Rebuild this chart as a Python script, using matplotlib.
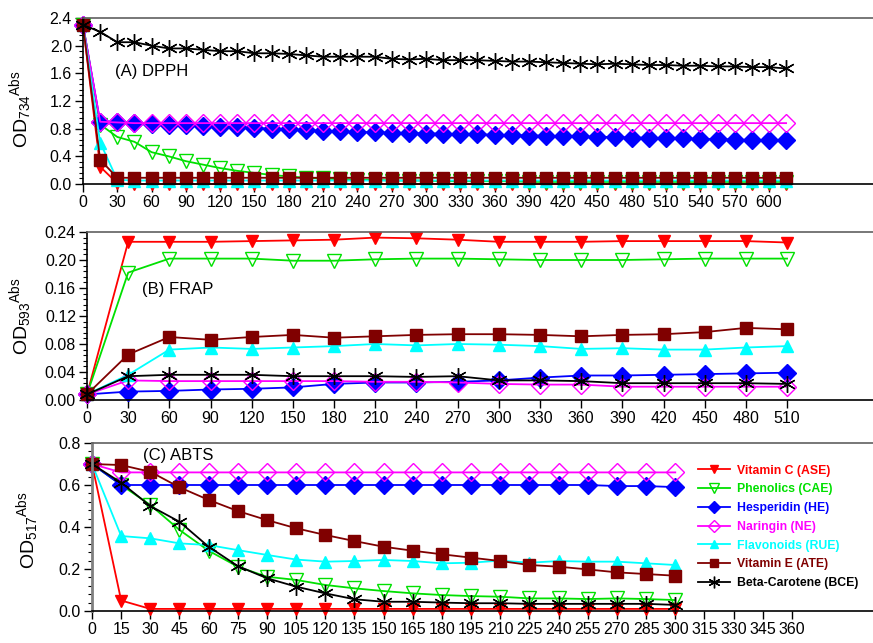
import matplotlib
matplotlib.use("Agg")
import matplotlib.pyplot as plt
from matplotlib.ticker import MultipleLocator, FormatStrFormatter

plt.rcParams['font.family'] = ['Liberation Sans', 'DejaVu Sans']
plt.rcParams['mathtext.fontset'] = 'custom'
plt.rcParams['mathtext.rm'] = 'Liberation Sans'
plt.rcParams['mathtext.it'] = 'Liberation Sans'

series_names = ["Vitamin C (ASE)", "Phenolics (CAE)", "Hesperidin (HE)", "Naringin (NE)",
                "Flavonoids (RUE)", "Vitamin E (ATE)", "Beta-Carotene (BCE)"]

# ---------------- Panel A : DPPH ----------------
time_A = list(range(0, 616, 15))
A_ASE = [2.30, 0.25, 0.01, 0.00, 0.00, 0.00, 0.00, 0.00, 0.00, 0.00, 0.00, 0.00, 0.00, 0.00,
         0.00, 0.00, 0.00, 0.00, 0.00, 0.00, 0.00, 0.00, 0.00, 0.00, 0.00, 0.00, 0.00, 0.00,
         0.00, 0.00, 0.00, 0.00, 0.00, 0.00, 0.00, 0.00, 0.00, 0.00, 0.00, 0.00, 0.00, 0.00]
A_CAE = [2.30, 0.86, 0.68, 0.61, 0.46, 0.40, 0.33, 0.28, 0.23, 0.19, 0.16, 0.13, 0.11, 0.09,
         0.08, 0.07, 0.06, 0.06, 0.05, 0.05, 0.05, 0.04, 0.04, 0.04, 0.04, 0.04, 0.03, 0.03,
         0.03, 0.03, 0.03, 0.03, 0.03, 0.03, 0.03, 0.03, 0.03, 0.03, 0.03, 0.03, 0.03, 0.03]
A_HE = [2.30, 0.90, 0.89, 0.88, 0.87, 0.86, 0.85, 0.84, 0.83, 0.82, 0.81, 0.80, 0.79, 0.78,
        0.77, 0.76, 0.75, 0.75, 0.74, 0.74, 0.73, 0.73, 0.72, 0.72, 0.71, 0.71, 0.70, 0.70,
        0.69, 0.69, 0.68, 0.68, 0.67, 0.67, 0.66, 0.66, 0.65, 0.65, 0.64, 0.64, 0.63, 0.63]
A_NE = [2.30, 0.90, 0.89, 0.88, 0.88, 0.88, 0.88, 0.88, 0.88, 0.88, 0.88, 0.88, 0.88, 0.88,
        0.88, 0.88, 0.88, 0.88, 0.88, 0.88, 0.88, 0.88, 0.88, 0.88, 0.88, 0.88, 0.88, 0.88,
        0.88, 0.88, 0.88, 0.88, 0.88, 0.88, 0.88, 0.88, 0.88, 0.88, 0.88, 0.88, 0.88, 0.88]
A_RUE = [2.30, 0.60, 0.06, 0.05, 0.05, 0.05, 0.05, 0.05, 0.05, 0.05, 0.05, 0.05, 0.05, 0.05,
         0.05, 0.05, 0.05, 0.05, 0.05, 0.05, 0.05, 0.05, 0.05, 0.05, 0.05, 0.05, 0.05, 0.05,
         0.05, 0.05, 0.05, 0.05, 0.05, 0.05, 0.05, 0.05, 0.05, 0.05, 0.05, 0.05, 0.05, 0.05]
A_ATE = [2.30, 0.35, 0.09, 0.09, 0.09, 0.09, 0.09, 0.09, 0.09, 0.09, 0.09, 0.09, 0.09, 0.09,
         0.09, 0.09, 0.09, 0.09, 0.09, 0.09, 0.09, 0.09, 0.09, 0.09, 0.09, 0.09, 0.09, 0.09,
         0.09, 0.09, 0.09, 0.09, 0.09, 0.09, 0.09, 0.09, 0.09, 0.09, 0.09, 0.09, 0.09, 0.09]
A_BCE = [2.30, 2.20, 2.05, 2.05, 2.00, 1.96, 1.96, 1.94, 1.92, 1.92, 1.89, 1.89, 1.88, 1.86,
         1.84, 1.84, 1.84, 1.84, 1.81, 1.80, 1.81, 1.79, 1.79, 1.79, 1.78, 1.77, 1.77, 1.76,
         1.75, 1.74, 1.73, 1.74, 1.73, 1.72, 1.72, 1.71, 1.71, 1.70, 1.70, 1.69, 1.69, 1.67]

# ---------------- Panel B : FRAP ----------------
time_B = list(range(0, 511, 30))
B_ASE = [0.008, 0.226, 0.226, 0.226, 0.227, 0.228, 0.229, 0.232, 0.231, 0.229, 0.226, 0.226,
         0.226, 0.227, 0.227, 0.227, 0.227, 0.225]
B_CAE = [0.008, 0.182, 0.202, 0.202, 0.202, 0.199, 0.199, 0.201, 0.202, 0.202, 0.201, 0.200,
         0.200, 0.200, 0.201, 0.202, 0.202, 0.202]
B_HE = [0.008, 0.012, 0.013, 0.015, 0.016, 0.018, 0.023, 0.025, 0.025, 0.026, 0.028, 0.032,
        0.035, 0.035, 0.036, 0.037, 0.038, 0.039]
B_NE = [0.008, 0.028, 0.027, 0.027, 0.027, 0.027, 0.027, 0.026, 0.026, 0.025, 0.023, 0.022,
        0.022, 0.019, 0.019, 0.019, 0.019, 0.019]
B_RUE = [0.008, 0.036, 0.072, 0.075, 0.073, 0.075, 0.077, 0.080, 0.078, 0.080, 0.079, 0.077,
         0.073, 0.074, 0.072, 0.072, 0.075, 0.077]
B_ATE = [0.008, 0.065, 0.090, 0.086, 0.090, 0.093, 0.089, 0.091, 0.093, 0.094, 0.094, 0.093,
         0.091, 0.093, 0.094, 0.097, 0.103, 0.101]
B_BCE = [0.008, 0.034, 0.036, 0.036, 0.036, 0.034, 0.034, 0.034, 0.033, 0.034, 0.028, 0.028,
         0.027, 0.024, 0.024, 0.024, 0.024, 0.023]

# ---------------- Panel C : ABTS ----------------
time_C = list(range(0, 301, 15))
C_ASE = [0.70, 0.05, 0.01, 0.01, 0.01, 0.01, 0.01, 0.01, 0.01, 0.01, 0.01, 0.01, 0.01, 0.01,
         0.01, 0.01, 0.01, 0.01, 0.01, 0.01, 0.01]
C_CAE = [0.70, 0.60, 0.505, 0.386, 0.287, 0.211, 0.163, 0.148, 0.124, 0.108, 0.095, 0.084,
         0.076, 0.071, 0.068, 0.060, 0.060, 0.057, 0.060, 0.057, 0.052]
C_HE = [0.70, 0.60, 0.60, 0.60, 0.60, 0.60, 0.60, 0.60, 0.60, 0.60, 0.60, 0.60, 0.60, 0.60,
        0.60, 0.60, 0.60, 0.60, 0.595, 0.595, 0.59]
C_NE = [0.70, 0.66, 0.66, 0.66, 0.66, 0.66, 0.66, 0.66, 0.66, 0.66, 0.66, 0.66, 0.66, 0.66,
        0.66, 0.66, 0.66, 0.66, 0.66, 0.66, 0.66]
C_RUE = [0.70, 0.357, 0.346, 0.322, 0.314, 0.290, 0.267, 0.245, 0.235, 0.238, 0.243, 0.238,
         0.227, 0.230, 0.240, 0.230, 0.238, 0.235, 0.235, 0.227, 0.219]
C_ATE = [0.70, 0.695, 0.663, 0.589, 0.529, 0.476, 0.433, 0.394, 0.362, 0.333, 0.306, 0.287,
         0.270, 0.254, 0.238, 0.219, 0.211, 0.198, 0.184, 0.176, 0.168]
C_BCE = [0.70, 0.611, 0.500, 0.425, 0.306, 0.214, 0.156, 0.116, 0.084, 0.056, 0.044, 0.044,
         0.040, 0.037, 0.037, 0.034, 0.034, 0.034, 0.034, 0.034, 0.029]

xticks_A = list(range(0, 601, 30))
xticks_B = list(range(0, 511, 30))
xticks_C = list(range(0, 361, 15))

styles = [
    dict(color='#FF0000', marker='v', mfc='#FF0000', mec='#FF0000', ms=9),
    dict(color='#00E000', marker='v', mfc='none', mec='#00E000', ms=10),
    dict(color='#0000FF', marker='D', mfc='#0000FF', mec='#0000FF', ms=9),
    dict(color='#FF00FF', marker='D', mfc='none', mec='#FF00FF', ms=9),
    dict(color='#00FFFF', marker='^', mfc='#00FFFF', mec='#00FFFF', ms=9),
    dict(color='#800000', marker='s', mfc='#800000', mec='#800000', ms=9),
    dict(color='#000000', marker=(6, 2, 0), mfc='none', mec='#000000', ms=12),
]

W, H = 873, 643
fig = plt.figure(figsize=(W / 100, H / 100), dpi=100)


def make_axes(left_px, top_px, bottom_px):
    return fig.add_axes([left_px / W, 1 - bottom_px / H, 1 - left_px / W,
                         (bottom_px - top_px) / H])


axA = make_axes(83, 18, 184)
axB = make_axes(87, 232, 400)
axC = make_axes(92, 443, 611)

panels = [
    (axA, time_A, [A_ASE, A_CAE, A_HE, A_NE, A_RUE, A_ATE, A_BCE], xticks_A, (0, 691),
     (0, 2.4), 0.4, '%.1f', '734', '(A) DPPH', (0.04, 0.675)),
    (axB, time_B, [B_ASE, B_CAE, B_HE, B_NE, B_RUE, B_ATE, B_BCE], xticks_B, (0, 572.6),
     (0, 0.24), 0.04, '%.2f', '593', '(B) FRAP', (0.07, 0.655)),
    (axC, time_C, [C_ASE, C_CAE, C_HE, C_NE, C_RUE, C_ATE, C_BCE], xticks_C, (0, 401.7),
     (0, 0.8), 0.2, '%.1f', '517', '(C) ABTS', (0.065, 0.925)),
]

for ax, t, data, xt, xl, yl, ystep, fmt, sub, title, tpos in panels:
    for name, vals, st in zip(series_names, data, styles):
        ax.plot(t, vals, label=name, lw=1.3, clip_on=False, markeredgewidth=1.0, **st)
    ax.set_xlim(*xl)
    ax.set_ylim(*yl)
    ax.set_xticks(xt)
    ax.yaxis.set_major_locator(MultipleLocator(ystep))
    ax.yaxis.set_minor_locator(MultipleLocator(ystep / 5))
    ax.yaxis.set_major_formatter(FormatStrFormatter(fmt))
    ax.tick_params(axis='both', which='major', direction='out', length=6, width=1,
                   labelsize=11.5, pad=2)
    ax.tick_params(axis='y', which='minor', direction='out', length=3, width=0.8)
    ax.spines['right'].set_visible(False)
    ax.spines['top'].set_color('#606060')
    ax.spines['top'].set_linewidth(1.2)
    ax.spines['left'].set_linewidth(1.2)
    ax.spines['bottom'].set_linewidth(1.2)
    ax.text(tpos[0], tpos[1], title, transform=ax.transAxes, fontsize=12, va='center',
            ha='left')
    ax.set_ylabel(r'OD$_{\mathrm{' + sub + r'}}{}^{\mathrm{Abs}}$', fontsize=14)

axA.yaxis.set_label_coords(-0.062, 0.45)
axB.yaxis.set_label_coords(-0.068, 0.5)
axC.yaxis.set_label_coords(-0.065, 0.48)
axC.spines['left'].set_color('#808080')
axC.spines['left'].set_linewidth(2)

leg = axC.legend(loc='upper left', bbox_to_anchor=(0.77, 0.90), frameon=False,
                 handlelength=2.6, handletextpad=0.6, labelspacing=0.55,
                 markerscale=0.7, borderaxespad=0, labelcolor='linecolor',
                 prop={'family': 'Liberation Sans', 'weight': 'bold', 'size': 8.8})

fig.savefig('out.png', dpi=100)
